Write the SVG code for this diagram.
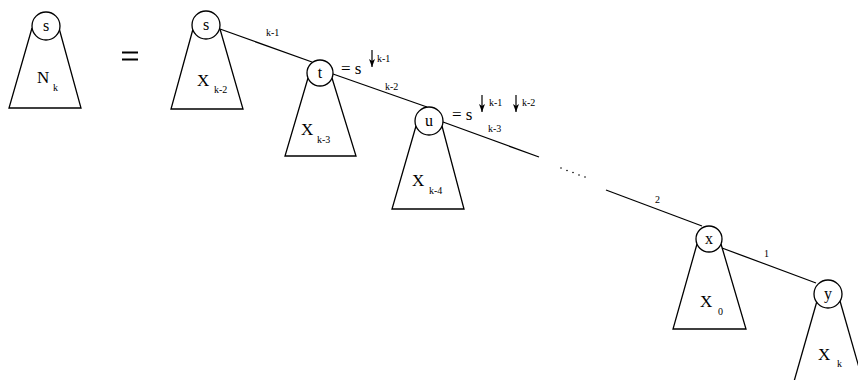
<svg xmlns="http://www.w3.org/2000/svg" width="858" height="380" viewBox="0 0 858 380">
<defs>
<marker id="ah" viewBox="0 0 8 6" refX="8" refY="3" markerWidth="8" markerHeight="6" markerUnits="userSpaceOnUse" orient="auto">
<path d="M0,0 L8,3 L0,6 L2,3 Z" fill="#000"/>
</marker>
</defs>
<style>
.ln{fill:none;stroke:#000;stroke-width:1.3}
.nd{fill:#fff;stroke:#000;stroke-width:1.3}
.big{font-family:"Liberation Serif","Times New Roman",serif;font-size:17px;fill:#000}
.lbl{font-family:"Liberation Serif","Times New Roman",serif;font-size:16px;fill:#000;text-anchor:middle}
.sm{font-family:"Liberation Serif","Times New Roman",serif;font-size:10px;fill:#000}
.arr{stroke:#000;stroke-width:1.2;fill:none}
</style>
<rect width="858" height="380" fill="#fff"/>

<g id="connectors">
<line class="ln" x1="220" y1="29" x2="312" y2="62"/>
<line class="ln" x1="333" y1="74" x2="427" y2="107"/>
<line class="ln" x1="443" y1="122" x2="539" y2="157"/>
<g fill="#000">
<circle cx="561" cy="168" r="0.8"/>
<circle cx="567" cy="170.5" r="0.8"/>
<circle cx="573" cy="172.5" r="0.8"/>
<circle cx="579" cy="175" r="0.8"/>
<circle cx="585" cy="177" r="0.8"/>
</g>
<line class="ln" x1="606" y1="190" x2="702" y2="226"/>
<line class="ln" x1="722" y1="248" x2="816" y2="283"/>
<text class="sm" x="266" y="36">k-1</text>
<text class="sm" x="385" y="90">k-2</text>
<text class="sm" x="488" y="132">k-3</text>
<text class="sm" x="655" y="203">2</text>
<text class="sm" x="764" y="257">1</text>
</g>

<g id="Nk">
<polyline class="ln" points="32,28 9,108 81,108 59,28"/>
<circle class="nd" cx="46" cy="26" r="14"/>
<text class="lbl" x="46" y="31">s</text>
<text class="big" x="37" y="83">N</text>
<text class="sm" x="53" y="91">k</text>
</g>

<g id="equals">
<line x1="122" y1="52.5" x2="138" y2="52.5" stroke="#000" stroke-width="2"/>
<line x1="122" y1="59.5" x2="138" y2="59.5" stroke="#000" stroke-width="2"/>
</g>

<g id="node-s">
<polyline class="ln" points="193,29 171,109 243,109 220,29"/>
<circle class="nd" cx="206" cy="25" r="14"/>
<text class="lbl" x="206" y="30">s</text>
<text class="big" x="197" y="86">X</text>
<text class="sm" x="214" y="93">k-2</text>
</g>

<g id="node-t">
<polyline class="ln" points="308,78 285,156 356,156 332,78"/>
<circle class="nd" cx="320" cy="73" r="13"/>
<text class="lbl" x="320" y="78">t</text>
<text class="big" x="301" y="135">X</text>
<text class="sm" x="317" y="143">k-3</text>
<text class="big" x="341" y="74">= s</text>
<line class="arr" x1="372" y1="50" x2="372" y2="67" marker-end="url(#ah)"/>
<text class="sm" x="377" y="62">k-1</text>
</g>

<g id="node-u">
<polyline class="ln" points="416,126 392,209 464,209 442,126"/>
<circle class="nd" cx="429" cy="121" r="14"/>
<text class="lbl" x="429" y="126">u</text>
<text class="big" x="412" y="186">X</text>
<text class="sm" x="429" y="194">k-4</text>
<text class="big" x="452" y="120">= s</text>
<line class="arr" x1="482" y1="95" x2="482" y2="112" marker-end="url(#ah)"/>
<text class="sm" x="489" y="106">k-1</text>
<line class="arr" x1="516" y1="95" x2="516" y2="112" marker-end="url(#ah)"/>
<text class="sm" x="522" y="106">k-2</text>
</g>

<g id="node-x">
<polyline class="ln" points="697,244 673,329 746,329 721,244"/>
<circle class="nd" cx="709" cy="239" r="13"/>
<text class="lbl" x="709" y="244">x</text>
<text class="big" x="700" y="307">X</text>
<text class="sm" x="718" y="315">0</text>
</g>

<g id="node-y">
<line class="ln" x1="817" y1="301" x2="791" y2="392"/>
<line class="ln" x1="840" y1="301" x2="866" y2="392"/>
<circle class="nd" cx="828" cy="294" r="14"/>
<text class="lbl" x="828" y="299">y</text>
<text class="big" x="818" y="360">X</text>
<text class="sm" x="837" y="367">k</text>
</g>
</svg>
